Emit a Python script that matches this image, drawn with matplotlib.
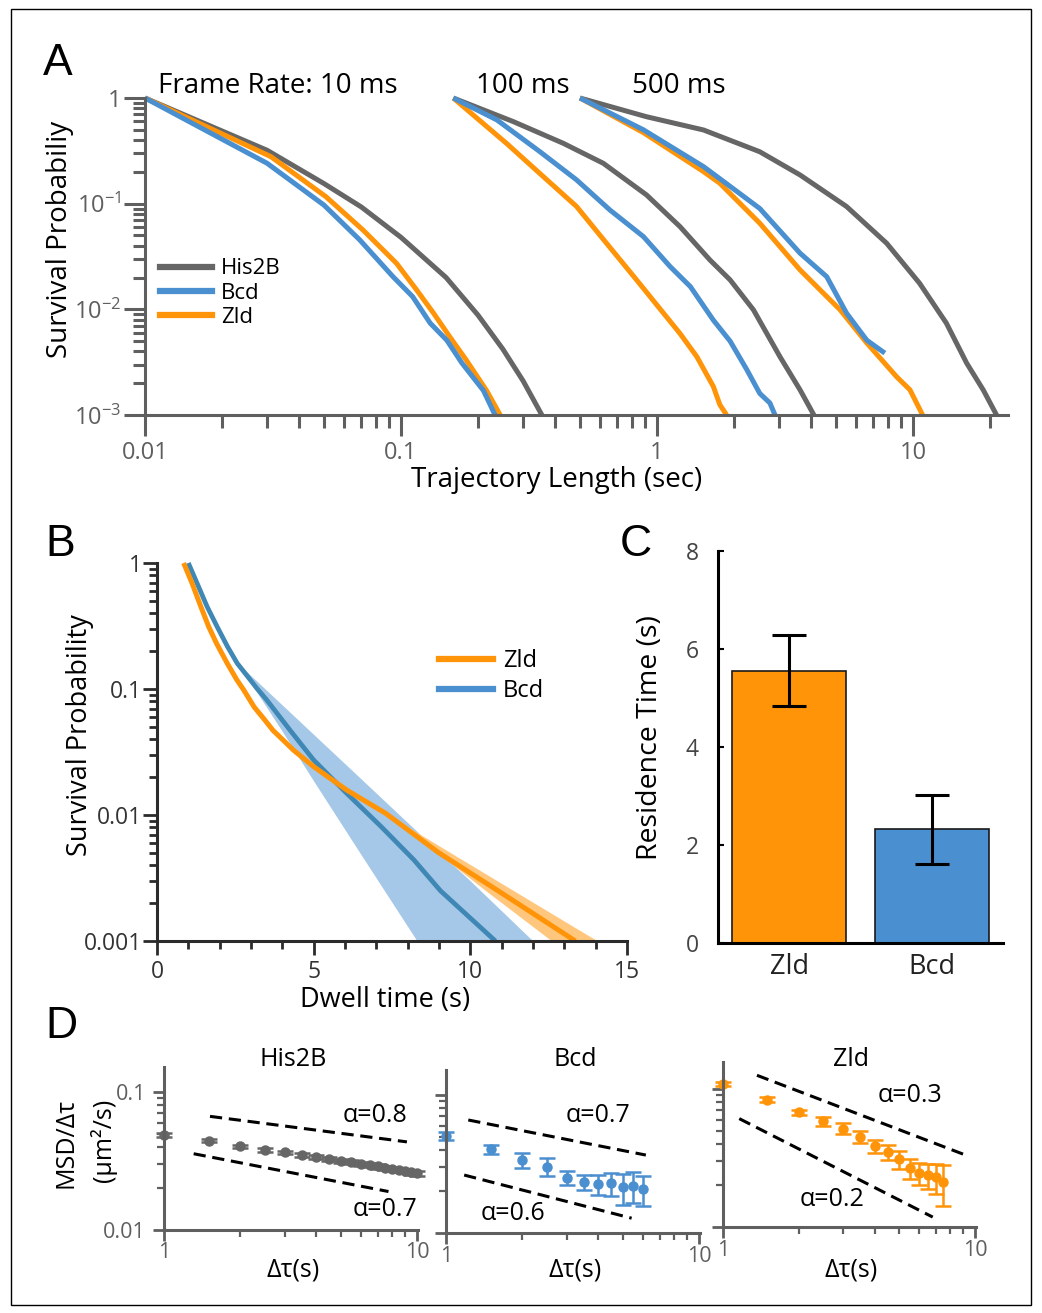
import matplotlib
matplotlib.use("Agg")
import matplotlib.pyplot as plt
import matplotlib.ticker as mticker
from matplotlib.patches import Rectangle
from matplotlib.lines import Line2D

plt.rcParams['font.family'] = ['Open Sans', 'DejaVu Sans']
plt.rcParams['mathtext.fontset'] = 'custom'
plt.rcParams['mathtext.rm'] = 'Open Sans'

GRAY = '#666666'
BLUE = '#4A8FCF'
ORANGE = '#FF9408'
AXG = '#5f5f5f'

# ---------------- Panel A: survival curves at three frame rates
his_10_t = [0.01, 0.03, 0.05, 0.07, 0.1, 0.15, 0.2, 0.25, 0.3, 0.355]
his_10_p = [1, 0.32, 0.155, 0.093, 0.048, 0.02, 0.0088, 0.0042, 0.0021, 0.001]
bcd_10_t = [0.01, 0.03, 0.05, 0.069, 0.093, 0.111, 0.13, 0.151, 0.173, 0.21, 0.233]
bcd_10_p = [1, 0.241, 0.097, 0.0454, 0.0204, 0.0132, 0.0074, 0.0051, 0.0031, 0.0017, 0.001]
zld_10_t = [0.01, 0.031, 0.051, 0.071, 0.096, 0.115, 0.134, 0.155, 0.18, 0.216, 0.244]
zld_10_p = [1, 0.279, 0.116, 0.0564, 0.0273, 0.0153, 0.0092, 0.0055, 0.0033, 0.0017, 0.001]

his_100_t = [0.16, 0.275, 0.43, 0.617, 0.91, 1.23, 1.61, 1.93, 2.38, 3.02, 3.62, 4.1]
his_100_p = [1, 0.597, 0.373, 0.241, 0.121, 0.0606, 0.0293, 0.019, 0.0099, 0.00357, 0.00173, 0.001]
bcd_100_t = [0.16, 0.237, 0.349, 0.485, 0.655, 0.885, 1.125, 1.35, 1.66, 1.93, 2.24, 2.52, 2.76, 2.89]
bcd_100_p = [1, 0.62, 0.31, 0.168, 0.087, 0.0488, 0.0254, 0.0164, 0.0079, 0.005, 0.0027, 0.0016, 0.0013, 0.001]
zld_100_t = [0.16, 0.258, 0.36, 0.485, 0.635, 0.832, 1.06, 1.23, 1.43, 1.66, 1.76, 1.87]
zld_100_p = [1, 0.373, 0.18, 0.094, 0.0422, 0.019, 0.0092, 0.0059, 0.00357, 0.00186, 0.00125, 0.001]

his_500_t = [0.5, 0.91, 1.52, 2.52, 3.62, 5.5, 7.89, 10.6, 13.5, 16.2, 18.8, 21.2]
his_500_p = [1, 0.665, 0.498, 0.31, 0.187, 0.094, 0.0422, 0.0177, 0.0074, 0.0031, 0.00173, 0.001]
bcd_500_t = [0.5, 0.885, 1.52, 1.9, 2.52, 3.62, 4.6, 5.5, 6.6, 7.76]
bcd_500_p = [1, 0.5, 0.224, 0.15, 0.09, 0.034, 0.0204, 0.0092, 0.0051, 0.00385]
zld_500_t = [0.5, 0.885, 1.52, 1.76, 2.52, 3.62, 5.19, 6.6, 8.63, 9.73, 10.9]
zld_500_p = [1, 0.47, 0.201, 0.156, 0.0653, 0.0236, 0.0099, 0.0048, 0.0023, 0.00173, 0.001]

frame_rates = ['Frame Rate: 10 ms', '100 ms', '500 ms']

# ---------------- Panel B: fitted survival (dwell time)
zld_b_t = [0.85, 1.12, 1.4, 1.65, 1.9, 2.24, 2.55, 2.77, 3.1, 3.41, 3.7, 4.04, 4.35, 5.0,
           6.05, 7.3, 9.0, 11.0, 13.35]
zld_b_p = [1.0, 0.69, 0.45, 0.312, 0.23, 0.16, 0.118, 0.098, 0.072, 0.058, 0.047, 0.039,
           0.0328, 0.0242, 0.0158, 0.0103, 0.005, 0.0024, 0.001]
bcd_b_t = [1.0, 1.28, 1.6, 1.92, 2.25, 2.56, 2.9, 3.19, 3.5, 4.25, 5.0, 6.05, 7.15, 8.2,
           9.05, 10.8]
bcd_b_p = [1.0, 0.69, 0.45, 0.312, 0.217, 0.16, 0.125, 0.101, 0.082, 0.047, 0.0273, 0.0149,
           0.0081, 0.0044, 0.0025, 0.001]
bcd_band_t = [2.6, 4.0, 5.0, 6.5, 8.3, 10.0, 12.0]
bcd_band_lo = [0.158, 0.046, 0.0186, 0.0049, 0.001, 0.001, 0.001]
bcd_band_hi = [0.158, 0.0746, 0.0436, 0.0195, 0.0074, 0.003, 0.001]
zld_band_t = [7.3, 9.0, 10.5, 12.6, 14.06]
zld_band_lo = [0.0103, 0.0049, 0.0025, 0.001, 0.001]
zld_band_hi = [0.0103, 0.0057, 0.0034, 0.00165, 0.001]

# ---------------- Panel C: residence time
c_names = ['Zld', 'Bcd']
c_vals = [5.56, 2.32]
c_errs = [0.72, 0.71]

# ---------------- Panel D: MSD / dtau
his_d_t = [1, 1.5, 2, 2.5, 3, 3.5, 4, 4.5, 5, 5.5, 6, 6.5, 7, 7.5, 8, 8.5, 9, 9.5, 10]
his_d_v = [0.049, 0.0445, 0.0405, 0.038, 0.0365, 0.035, 0.0338, 0.0328, 0.0318, 0.031,
           0.0302, 0.0295, 0.0289, 0.0283, 0.0277, 0.0272, 0.0267, 0.0262, 0.0257]
his_d_e = [0.0015, 0.0012, 0.001, 0.001, 0.001, 0.001, 0.001, 0.001, 0.001, 0.001,
           0.001, 0.001, 0.001, 0.001, 0.001, 0.001, 0.001, 0.001, 0.0012]
bcd_d_t = [1, 1.5, 2, 2.5, 3, 3.5, 4, 4.5, 5, 5.5, 6]
bcd_d_v = [0.0505, 0.0404, 0.0338, 0.0303, 0.0252, 0.0233, 0.0226, 0.0229, 0.0214, 0.022, 0.0207]
bcd_d_e = [0.0035, 0.0031, 0.004, 0.0046, 0.0029, 0.0029, 0.0038, 0.0045, 0.0055, 0.0055, 0.005]
zld_d_t = [1, 1.5, 2, 2.5, 3, 3.5, 4, 4.5, 5, 5.5, 6, 6.5, 7, 7.5]
zld_d_v = [0.109, 0.0838, 0.068, 0.0586, 0.0516, 0.0449, 0.0386, 0.0349, 0.031, 0.0268,
           0.0246, 0.0237, 0.023, 0.0212]
zld_d_e = [0.003, 0.003, 0.003, 0.0045, 0.0047, 0.0045, 0.0042, 0.0044, 0.0046, 0.0044,
           0.0045, 0.0049, 0.0057, 0.007]
# guide lines (x pair, y pair)
his_guides = [([1.52, 9.13], [0.0666, 0.0435]), ([1.31, 7.72], [0.0357, 0.019])]
bcd_guides = [([1.225, 6.17], [0.0659, 0.0367]), ([1.18, 5.42], [0.0263, 0.0128])]
zld_guides = [([1.364, 8.99], [0.1257, 0.0337]), ([1.16, 6.8], [0.061, 0.0118])]

W, H = 1042, 1313
fig = plt.figure(figsize=(W / 100, H / 100), dpi=100)


def add_ax(l, t, r, b):
    return fig.add_axes([l / W, 1 - b / H, (r - l) / W, (b - t) / H])


def ftext(x, y, s, **kw):
    return fig.text(x / W, 1 - y / H, s, **kw)


fig.patches.append(Rectangle((11 / W, 1 - 1305 / H), 1020 / W, 1296 / H,
                             transform=fig.transFigure, fill=False, ec='black', lw=1))

# panel letters
for letter, x, y in [('A', 43, 75), ('B', 45, 556), ('C', 620, 556), ('D', 45, 1038)]:
    ftext(x, y, letter, fontsize=32, family='Liberation Sans', va='baseline')

# ================= A
axA = add_ax(145, 98, 1008, 415)
groups = [(his_10_t, his_10_p, zld_10_t, zld_10_p, bcd_10_t, bcd_10_p),
          (his_100_t, his_100_p, zld_100_t, zld_100_p, bcd_100_t, bcd_100_p),
          (his_500_t, his_500_p, zld_500_t, zld_500_p, bcd_500_t, bcd_500_p)]
for ht, hp, zt, zp, bt, bp in groups:
    axA.plot(ht, hp, color=GRAY, lw=3.6, clip_on=False, solid_capstyle='butt')
    axA.plot(zt, zp, color=ORANGE, lw=3.6, clip_on=False, solid_capstyle='butt')
    axA.plot(bt, bp, color=BLUE, lw=3.6, clip_on=False, solid_capstyle='butt')
axA.set_xscale('log')
axA.set_yscale('log')
axA.set_xlim(0.01, 23.5)
axA.set_ylim(1e-3, 1)
for s in ['top', 'right']:
    axA.spines[s].set_visible(False)
for s in ['left', 'bottom']:
    axA.spines[s].set_color(AXG)
    axA.spines[s].set_linewidth(2.2)
axA.set_xticks([0.01, 0.1, 1, 10])
axA.set_xticklabels(['0.01', '0.1', '1', '10'])
axA.set_yticks([1e-3, 1e-2, 1e-1, 1])
axA.set_yticklabels([r'$\mathregular{10^{-3}}$', r'$\mathregular{10^{-2}}$',
                     r'$\mathregular{10^{-1}}$', '1'])
axA.xaxis.set_minor_locator(mticker.LogLocator(base=10, subs=range(2, 10), numticks=20))
axA.yaxis.set_minor_locator(mticker.LogLocator(base=10, subs=range(2, 10), numticks=20))
axA.xaxis.set_minor_formatter(mticker.NullFormatter())
axA.yaxis.set_minor_formatter(mticker.NullFormatter())
axA.tick_params(which='major', length=15, width=2.2, color=AXG, labelcolor=AXG, labelsize=17)
axA.tick_params(which='minor', length=9, width=2.2, color=AXG)
axA.tick_params(axis='y', which='major', pad=2)
axA.tick_params(axis='x', which='major', pad=4)
handles = [Line2D([], [], color=GRAY, lw=4.5), Line2D([], [], color=BLUE, lw=4.5),
           Line2D([], [], color=ORANGE, lw=4.5)]
axA.legend(handles, ['His2B', 'Bcd', 'Zld'], loc='upper left', bbox_to_anchor=(0.017, 0.494),
           frameon=False, fontsize=16, handlelength=2.35, handletextpad=0.4,
           labelspacing=0.14, borderpad=0, borderaxespad=0)
ftext(158, 93, frame_rates[0], fontsize=20, va='baseline')
ftext(476, 93, frame_rates[1], fontsize=20, va='baseline')
ftext(632, 93, frame_rates[2], fontsize=20, va='baseline')
ftext(60, 239, 'Survival Probabiliy', fontsize=20, rotation=90, ha='center', va='center')
ftext(557, 480, 'Trajectory Length (sec)', fontsize=20, ha='center', va='center')

# ================= B
BDARK = '#2b2b2b'
axB = add_ax(157, 563, 627, 941)
axB.fill_between(bcd_band_t, bcd_band_lo, bcd_band_hi, color='#A6C8E8', lw=0)
axB.fill_between(zld_band_t, zld_band_lo, zld_band_hi, color='#FFC77E', lw=0)
axB.plot(bcd_b_t, bcd_b_p, color='#3F87B4', lw=3.4, clip_on=False, solid_capstyle='butt')
axB.plot(zld_b_t, zld_b_p, color=ORANGE, lw=3.6, clip_on=False, solid_capstyle='butt')
axB.set_yscale('log')
axB.set_xlim(0, 15)
axB.set_ylim(1e-3, 1)
for s in ['top', 'right']:
    axB.spines[s].set_visible(False)
for s in ['left', 'bottom']:
    axB.spines[s].set_color(BDARK)
    axB.spines[s].set_linewidth(2.2)
axB.set_xticks([0, 5, 10, 15])
axB.xaxis.set_minor_locator(mticker.MultipleLocator(1))
axB.set_yticks([1e-3, 1e-2, 1e-1, 1])
axB.set_yticklabels(['0.001', '0.01', '0.1', '1'])
axB.yaxis.set_minor_locator(mticker.LogLocator(base=10, subs=range(2, 10), numticks=20))
axB.yaxis.set_minor_formatter(mticker.NullFormatter())
axB.tick_params(which='major', length=10, width=2, color=BDARK, labelcolor='#333333', labelsize=16.5)
axB.tick_params(which='minor', length=6, width=2, color=BDARK)
axB.tick_params(axis='y', which='major', pad=1)
axB.tick_params(axis='x', which='major', pad=4)
hB = [Line2D([], [], color=ORANGE, lw=4.5), Line2D([], [], color=BLUE, lw=4.5)]
axB.legend(hB, ['Zld', 'Bcd'], loc='upper left', bbox_to_anchor=(0.60, 0.772),
           frameon=False, fontsize=17, handlelength=2.3, handletextpad=0.4,
           labelspacing=0.25, borderpad=0, borderaxespad=0)
ftext(80, 735, 'Survival Probability', fontsize=19.5, rotation=90, ha='center', va='center')
ftext(385, 1000, 'Dwell time (s)', fontsize=19.5, ha='center', va='center')

# ================= C
axC = add_ax(718, 551, 1003, 943)
axC.bar(range(len(c_names)), c_vals, width=0.8, color=[ORANGE, BLUE], edgecolor='#1a1a1a',
        linewidth=1.2, yerr=c_errs, capsize=12,
        error_kw=dict(elinewidth=2.2, capthick=2.2, ecolor='black'))
axC.set_xlim(-0.5, 1.5)
axC.set_ylim(0, 8)
for s in ['top', 'right']:
    axC.spines[s].set_visible(False)
for s in ['left', 'bottom']:
    axC.spines[s].set_color('black')
    axC.spines[s].set_linewidth(2.2)
axC.set_xticks(range(len(c_names)))
axC.set_xticklabels(c_names, fontsize=19.5, color='#222222')
axC.set_yticks([0, 2, 4, 6, 8])
axC.tick_params(axis='x', length=0, pad=7)
axC.tick_params(axis='y', direction='in', length=4, width=1.5, labelsize=16.5,
                labelcolor='#444444', pad=14)
ftext(650, 738, 'Residence Time (s)', fontsize=20.5, rotation=90, ha='center', va='center')

# ================= D
panels = [
    ('His2B', GRAY, his_d_t, his_d_v, his_d_e, his_guides, (164, 1067, 418, 1230),
     [(375, 1116, 'α=0.8'), (385, 1210, 'α=0.7')]),
    ('Bcd', BLUE, bcd_d_t, bcd_d_v, bcd_d_e, bcd_guides, (446, 1070, 700, 1233),
     [(598, 1115, 'α=0.7'), (513, 1213, 'α=0.6')]),
    ('Zld', ORANGE, zld_d_t, zld_d_v, zld_d_e, zld_guides, (723, 1062, 976, 1227),
     [(910, 1096, 'α=0.3'), (832, 1200, 'α=0.2')]),
]
for i, (name, col, t, v, e, guides, box, alphas) in enumerate(panels):
    l, tp, r, b = box
    ax = add_ax(l, tp, r, b)
    for gx, gy in guides:
        ax.plot(gx, gy, color='black', lw=2.2, dashes=(4, 2.2))
    ax.errorbar(t, v, yerr=e, fmt='o', ms=6.5, color=col, ecolor=col, elinewidth=1.8,
                capsize=6, capthick=1.8, clip_on=False)
    ax.set_xscale('log')
    ax.set_yscale('log')
    ax.set_xlim(1, 10.1)
    ax.set_ylim(0.01, 0.01 * 10 ** ((b - tp) / 138))
    for s in ['top', 'right']:
        ax.spines[s].set_visible(False)
    for s in ['left', 'bottom']:
        ax.spines[s].set_color(AXG)
        ax.spines[s].set_linewidth(2.2)
    ax.set_xticks([1, 10])
    ax.set_xticklabels(['1', '10'])
    ax.xaxis.set_minor_locator(mticker.LogLocator(base=10, subs=range(2, 10), numticks=20))
    ax.xaxis.set_minor_formatter(mticker.NullFormatter())
    ax.set_yticks([0.01, 0.1])
    ax.yaxis.set_minor_locator(mticker.LogLocator(base=10, subs=range(2, 10), numticks=20))
    ax.yaxis.set_minor_formatter(mticker.NullFormatter())
    if i == 0:
        ax.set_yticklabels(['0.01', '0.1'])
    else:
        ax.set_yticklabels([])
    ax.tick_params(which='major', length=8, width=2, color=AXG, labelcolor=AXG, labelsize=15.5)
    ax.tick_params(which='minor', length=5, width=1.6, color=AXG)
    ax.tick_params(axis='x', which='major', pad=1)
    ax.tick_params(axis='y', which='major', pad=5)
    ftext((l + r) / 2 + 2, 1060, name, fontsize=18, ha='center', va='center')
    ftext((l + r) / 2 + 2, 1270, 'Δτ(s)', fontsize=18, ha='center', va='center')
    for ax_, ay, s in alphas:
        ftext(ax_, ay, s, fontsize=18, ha='center', va='center')

ftext(66, 1143, 'MSD/Δτ', fontsize=18, rotation=90, ha='center', va='center')
ftext(104, 1140, '(µm²/s)', fontsize=18, rotation=90, ha='center', va='center')

fig.savefig('out.png', dpi=100)
